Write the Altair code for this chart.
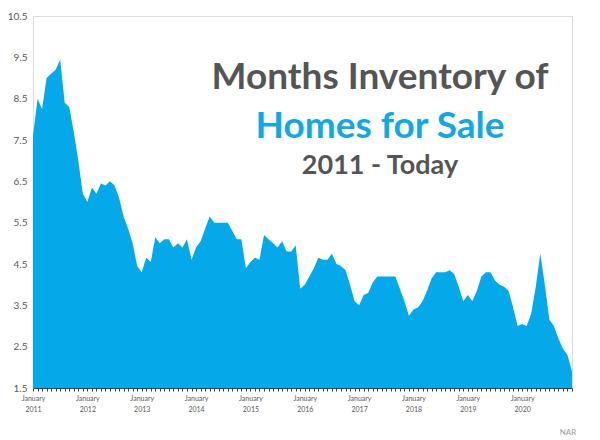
import altair as alt
import pandas as pd

# Months of inventory, monthly Jan 2011 .. Dec 2020
values = [
    7.6, 8.5, 8.25, 9.0, 9.1, 9.2, 9.45, 8.4, 8.3, 7.7, 7.0, 6.2,        # 2011
    6.0, 6.35, 6.2, 6.45, 6.4, 6.5, 6.4, 6.1, 5.65, 5.35, 5.0, 4.45,    # 2012
    4.3, 4.65, 4.55, 5.15, 5.0, 5.1, 5.1, 4.9, 5.0, 4.9, 5.1, 4.6,      # 2013
    4.9, 5.05, 5.35, 5.65, 5.5, 5.5, 5.5, 5.5, 5.3, 5.1, 5.1, 4.4,      # 2014
    4.55, 4.65, 4.6, 5.2, 5.1, 5.0, 4.9, 5.05, 4.8, 4.8, 4.95, 3.9,     # 2015
    4.0, 4.2, 4.4, 4.65, 4.6, 4.6, 4.75, 4.5, 4.45, 4.35, 4.0, 3.6,     # 2016
    3.5, 3.75, 3.8, 4.05, 4.2, 4.2, 4.2, 4.2, 4.2, 3.9, 3.6, 3.25,      # 2017
    3.4, 3.45, 3.6, 3.85, 4.15, 4.3, 4.3, 4.3, 4.35, 4.25, 3.95, 3.6,   # 2018
    3.75, 3.6, 3.85, 4.2, 4.3, 4.3, 4.1, 4.0, 3.95, 3.85, 3.45, 3.0,    # 2019
    3.05, 3.0, 3.3, 3.95, 4.75, 4.0, 3.15, 3.0, 2.7, 2.45, 2.3, 1.9,    # 2020
]
month_index = list(range(len(values)))
y_ticks = [1.5, 2.5, 3.5, 4.5, 5.5, 6.5, 7.5, 8.5, 9.5, 10.5]
first_year = 2011

title_lines = ["Months Inventory of", "Homes for Sale", "2011 - Today"]
title_colors = ["#555555", "#13A8E2", "#555555"]
title_sizes = [37, 37, 27]
title_y = [78, 127, 166]
source_text = "NAR"

df = pd.DataFrame({"m": month_index, "v": values, "base": [y_ticks[0]] * len(values)})

W, H = 539, 372
FONT = "Lato"
GRAY = "#595959"
BLUE = "#05A8E8"

area = alt.Chart(df).mark_area(color=BLUE, opacity=1, interpolate="linear", clip=True).encode(
    x=alt.X(
        "m:Q",
        scale=alt.Scale(domain=[0, len(values) - 1], nice=False, zero=False),
        axis=alt.Axis(
            values=month_index,
            labelExpr=f"datum.value % 12 == 0 ? ['January', '' + ({first_year} + datum.value / 12)] : ''",
            labelOverlap=False,
            labelFlush=False,
            labelFontSize=7,
            labelColor=GRAY,
            labelFont=FONT,
            labelPadding=3,
            labelLineHeight=11,
            tickSize=3,
            tickColor="#404040",
            domainColor="#404040",
            grid=False,
            title=None,
        ),
    ),
    y=alt.Y(
        "v:Q",
        scale=alt.Scale(domain=[1.5, 10.5], nice=False, zero=False),
        axis=alt.Axis(
            values=y_ticks,
            format=".1f",
            labelFontSize=10,
            labelColor=GRAY,
            labelFont=FONT,
            labelPadding=6,
            ticks=False,
            domain=False,
            grid=False,
            title=None,
        ),
    ),
    y2="base:Q",
)

tdf = pd.DataFrame({"t": title_lines})
titles = []
for i in range(len(title_lines)):
    titles.append(
        alt.Chart(tdf.iloc[[i]]).mark_text(
            font=FONT, fontWeight="bold", fontSize=title_sizes[i], color=title_colors[i],
            align="center", baseline="middle",
        ).encode(text="t:N", x=alt.value(347), y=alt.value(title_y[i] - 16))
    )

src = alt.Chart(pd.DataFrame({"t": [source_text]})).mark_text(
    font=FONT, fontSize=8, color="#9a9a9a", align="center", baseline="middle"
).encode(text="t:N", x=alt.value(535), y=alt.value(417))

chart = alt.layer(area, *titles, src).properties(
    width=W, height=H,
    autosize=alt.AutoSizeParams(type="none"),
    padding={"left": 25, "top": 8, "right": 20, "bottom": 52},
).configure_view(stroke=None).configure(background="white")

chart.save("out.html", embed_options={"renderer": "svg", "actions": False})
